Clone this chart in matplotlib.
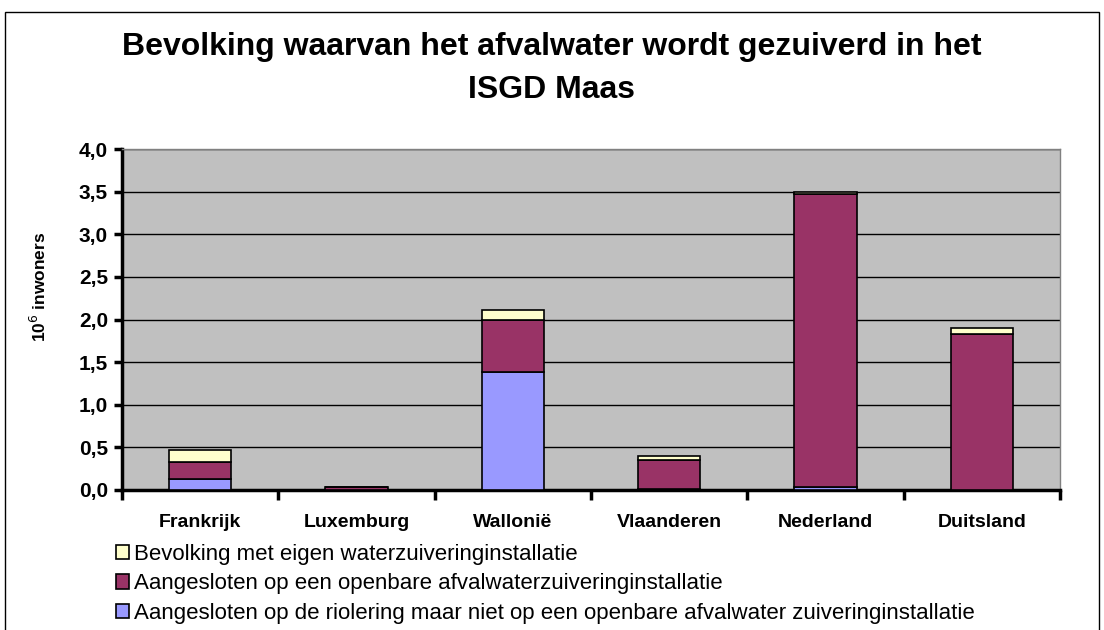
import matplotlib
matplotlib.use("Agg")
import matplotlib.pyplot as plt
from matplotlib.patches import Rectangle
from matplotlib.ticker import MultipleLocator, FuncFormatter
import numpy as np

categories = ["Frankrijk", "Luxemburg", "Wallonië", "Vlaanderen", "Nederland", "Duitsland"]
riolering = [0.13, 0.00, 1.38, 0.01, 0.04, 0.00]
openbaar = [0.20, 0.04, 0.61, 0.34, 3.43, 1.83]
eigen = [0.14, 0.00, 0.12, 0.05, 0.03, 0.07]

labels = [
    "Aangesloten op de riolering maar niet op een openbare afvalwater zuiveringinstallatie",
    "Aangesloten op een openbare afvalwaterzuiveringinstallatie",
    "Bevolking met eigen waterzuiveringinstallatie",
]
colors = ["#9999FF", "#993366", "#FFFFCC"]

plt.rcParams["font.family"] = ["Liberation Sans", "DejaVu Sans"]

fig = plt.figure(figsize=(11.04, 6.3), dpi=100)
# outer frame
fig.patches.append(Rectangle((5/1104, -0.01), (1099-5)/1104, 1 - 12/630 + 0.01,
                             transform=fig.transFigure, fill=False, edgecolor="black", lw=1))

ax = fig.add_axes([122/1104, 1 - 490/630, (1060-122)/1104, (490-149)/630])
ax.set_facecolor("#C0C0C0")

x = np.arange(len(categories))
w = 0.4
b = np.zeros(len(categories))
series = [riolering, openbaar, eigen]
for vals, c, lab in zip(series, colors, labels):
    ax.bar(x, vals, w, bottom=b, color=c, edgecolor="black", lw=1.2, label=lab, zorder=3)
    b = b + np.array(vals)

ax.set_xlim(-0.5, len(categories) - 0.5)
ax.set_ylim(0, 4.0)
ax.yaxis.set_major_locator(MultipleLocator(0.5))
ax.yaxis.set_major_formatter(FuncFormatter(lambda v, p: f"{v:.1f}".replace(".", ",")))
ax.grid(axis="y", color="black", lw=1, zorder=1)
ax.set_axisbelow(True)

for s in ["top", "right"]:
    ax.spines[s].set_color("#808080")
    ax.spines[s].set_linewidth(1)
ax.spines["left"].set_linewidth(2.5)
ax.spines["bottom"].set_linewidth(2.5)

ax.set_xticks(np.arange(len(categories) + 1) - 0.5, minor=False)
ax.set_xticklabels([])
ax.set_xticks(x, minor=True)
ax.set_xticklabels(categories, minor=True, fontsize=14, fontweight="bold")
ax.tick_params(axis="x", which="major", length=7, width=2.5, direction="out")
ax.tick_params(axis="x", which="minor", length=0, pad=17)
ax.tick_params(axis="y", length=6, width=2.5, direction="out", labelsize=15, pad=4)
for t in ax.get_yticklabels():
    t.set_fontweight("bold")

ax.set_ylabel("10$^{6}$ inwoners", fontsize=12.5, fontweight="bold")
ax.yaxis.set_label_coords(-0.078, 0.595)

fig.text(0.5, 1 - 47/630, "Bevolking waarvan het afvalwater wordt gezuiverd in het",
         ha="center", va="center", fontsize=23, fontweight="bold")
fig.text(0.5, 1 - 90/630, "ISGD Maas", ha="center", va="center", fontsize=23, fontweight="bold")

handles, labs = ax.get_legend_handles_labels()
leg = fig.legend(handles[::-1], labs[::-1], loc="upper left",
                 bbox_to_anchor=(107/1104, 1 - 535/630), frameon=False,
                 fontsize=16, handlelength=0.6, handleheight=0.6, handletextpad=0.2,
                 labelspacing=0.38, borderaxespad=0)

fig.savefig("out.png", dpi=100)
